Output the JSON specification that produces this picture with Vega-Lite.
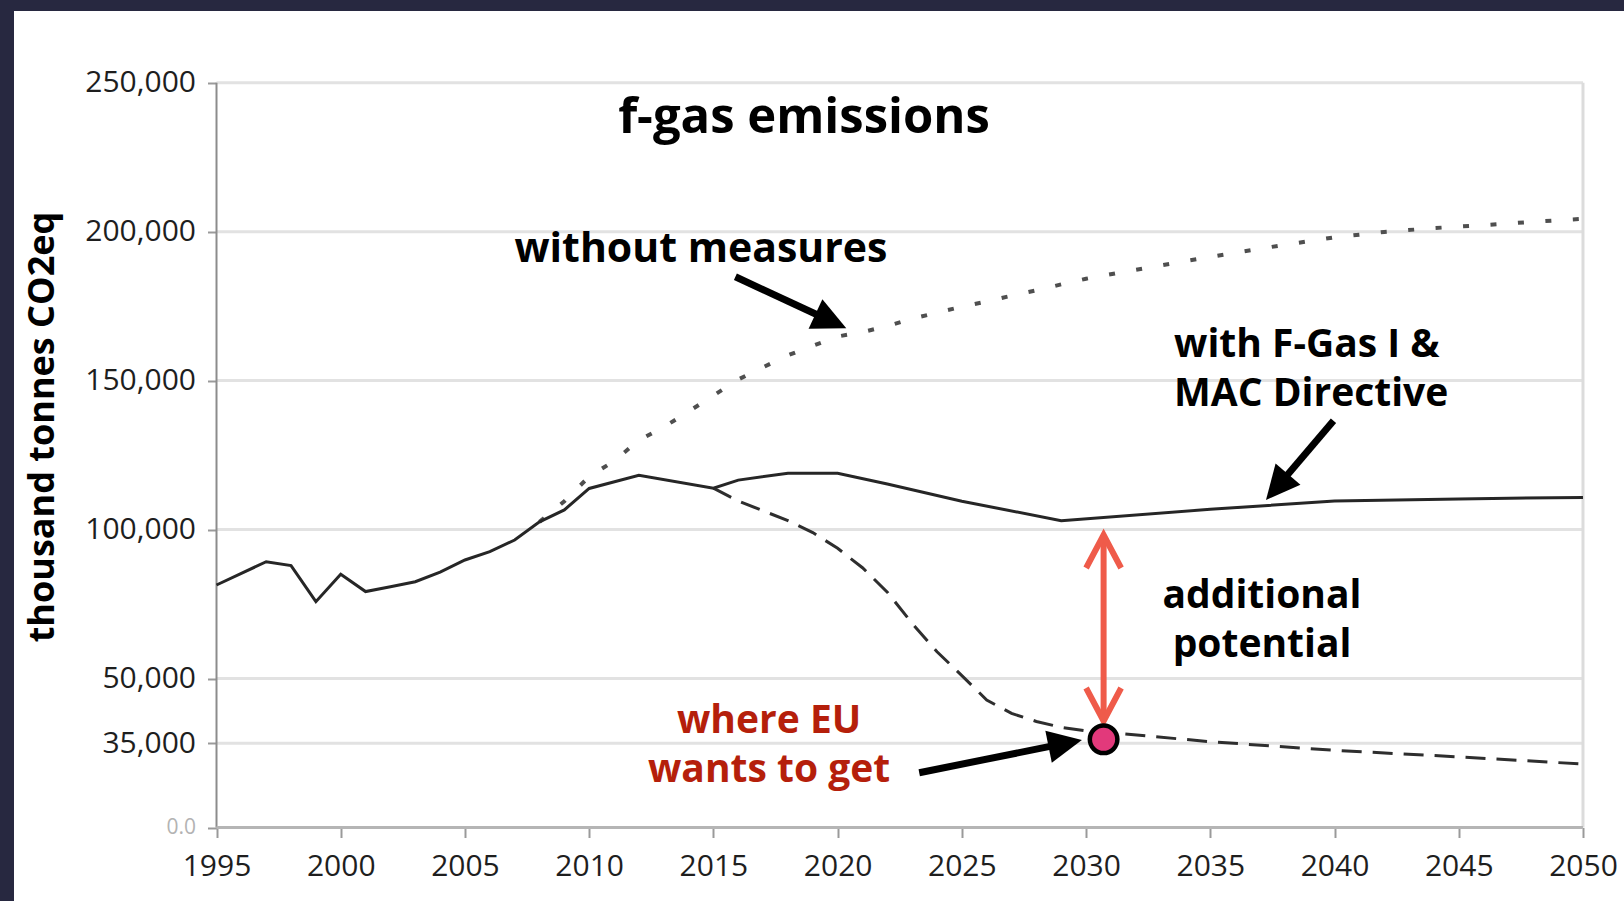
{
  "$schema": "https://vega.github.io/schema/vega-lite/v6.json",
  "width": 1610,
  "height": 890,
  "autosize": {"type": "none"},
  "padding": {"left": 14, "top": 11, "right": 0, "bottom": 0},
  "background": "#272840",
  "config": {"view": {"fill": "#ffffff", "stroke": null}, "font": "Open Sans"},
  "datasets": {
    "emissions": [
      {"series": "with F-Gas I & MAC Directive", "year": 1995, "value": 81400},
      {"series": "with F-Gas I & MAC Directive", "year": 1997, "value": 89200},
      {"series": "with F-Gas I & MAC Directive", "year": 1998, "value": 87900},
      {"series": "with F-Gas I & MAC Directive", "year": 1999, "value": 75800},
      {"series": "with F-Gas I & MAC Directive", "year": 2000, "value": 85000},
      {"series": "with F-Gas I & MAC Directive", "year": 2001, "value": 79200},
      {"series": "with F-Gas I & MAC Directive", "year": 2002, "value": 80800},
      {"series": "with F-Gas I & MAC Directive", "year": 2003, "value": 82500},
      {"series": "with F-Gas I & MAC Directive", "year": 2004, "value": 85700},
      {"series": "with F-Gas I & MAC Directive", "year": 2005, "value": 89800},
      {"series": "with F-Gas I & MAC Directive", "year": 2006, "value": 92600},
      {"series": "with F-Gas I & MAC Directive", "year": 2007, "value": 96500},
      {"series": "with F-Gas I & MAC Directive", "year": 2008, "value": 102600},
      {"series": "with F-Gas I & MAC Directive", "year": 2009, "value": 106600},
      {"series": "with F-Gas I & MAC Directive", "year": 2010, "value": 113800},
      {"series": "with F-Gas I & MAC Directive", "year": 2012, "value": 118200},
      {"series": "with F-Gas I & MAC Directive", "year": 2015, "value": 113900},
      {"series": "with F-Gas I & MAC Directive", "year": 2016, "value": 116600},
      {"series": "with F-Gas I & MAC Directive", "year": 2018, "value": 118900},
      {"series": "with F-Gas I & MAC Directive", "year": 2020, "value": 118900},
      {"series": "with F-Gas I & MAC Directive", "year": 2022, "value": 115300},
      {"series": "with F-Gas I & MAC Directive", "year": 2025, "value": 109500},
      {"series": "with F-Gas I & MAC Directive", "year": 2029, "value": 103000},
      {"series": "with F-Gas I & MAC Directive", "year": 2035, "value": 106800},
      {"series": "with F-Gas I & MAC Directive", "year": 2040, "value": 109600},
      {"series": "with F-Gas I & MAC Directive", "year": 2045, "value": 110300},
      {"series": "with F-Gas I & MAC Directive", "year": 2050, "value": 110800},
      {"series": "target path", "year": 2015, "value": 113900},
      {"series": "target path", "year": 2016, "value": 109600},
      {"series": "target path", "year": 2017, "value": 106300},
      {"series": "target path", "year": 2018, "value": 103000},
      {"series": "target path", "year": 2019, "value": 99000},
      {"series": "target path", "year": 2020, "value": 93700},
      {"series": "target path", "year": 2021, "value": 87200},
      {"series": "target path", "year": 2022, "value": 79000},
      {"series": "target path", "year": 2023, "value": 68500},
      {"series": "target path", "year": 2024, "value": 59000},
      {"series": "target path", "year": 2025, "value": 51000},
      {"series": "target path", "year": 2026, "value": 42800},
      {"series": "target path", "year": 2027, "value": 38300},
      {"series": "target path", "year": 2028, "value": 35600},
      {"series": "target path", "year": 2029, "value": 33600},
      {"series": "target path", "year": 2030, "value": 32400},
      {"series": "target path", "year": 2031, "value": 31800},
      {"series": "target path", "year": 2035, "value": 28800},
      {"series": "target path", "year": 2040, "value": 25900},
      {"series": "target path", "year": 2045, "value": 23700},
      {"series": "target path", "year": 2050, "value": 21300},
      {"series": "without measures", "year": 2008, "value": 102600},
      {"series": "without measures", "year": 2009, "value": 109500},
      {"series": "without measures", "year": 2010, "value": 117800},
      {"series": "without measures", "year": 2011, "value": 123000},
      {"series": "without measures", "year": 2012, "value": 130000},
      {"series": "without measures", "year": 2013, "value": 134400},
      {"series": "without measures", "year": 2014, "value": 139600},
      {"series": "without measures", "year": 2015, "value": 145000},
      {"series": "without measures", "year": 2016, "value": 150400},
      {"series": "without measures", "year": 2017, "value": 154500},
      {"series": "without measures", "year": 2018, "value": 158500},
      {"series": "without measures", "year": 2019, "value": 161700},
      {"series": "without measures", "year": 2020, "value": 164800},
      {"series": "without measures", "year": 2021, "value": 166300},
      {"series": "without measures", "year": 2022, "value": 168300},
      {"series": "without measures", "year": 2023, "value": 170800},
      {"series": "without measures", "year": 2024, "value": 172800},
      {"series": "without measures", "year": 2025, "value": 174800},
      {"series": "without measures", "year": 2026, "value": 176600},
      {"series": "without measures", "year": 2027, "value": 178500},
      {"series": "without measures", "year": 2028, "value": 180300},
      {"series": "without measures", "year": 2029, "value": 182300},
      {"series": "without measures", "year": 2030, "value": 184200},
      {"series": "without measures", "year": 2032, "value": 187200},
      {"series": "without measures", "year": 2034, "value": 190100},
      {"series": "without measures", "year": 2036, "value": 192900},
      {"series": "without measures", "year": 2038, "value": 195600},
      {"series": "without measures", "year": 2040, "value": 198100},
      {"series": "without measures", "year": 2042, "value": 199900},
      {"series": "without measures", "year": 2044, "value": 201200},
      {"series": "without measures", "year": 2046, "value": 202200},
      {"series": "without measures", "year": 2048, "value": 203300},
      {"series": "without measures", "year": 2050, "value": 204300}
    ],
    "gridlines": [
      {"year": 1995, "year2": 2050, "value": 28300},
      {"year": 1995, "year2": 2050, "value": 50000},
      {"year": 1995, "year2": 2050, "value": 100000},
      {"year": 1995, "year2": 2050, "value": 150000},
      {"year": 1995, "year2": 2050, "value": 200000},
      {"year": 1995, "year2": 2050, "value": 250000}
    ],
    "frame": [
      {"side": "right", "year": 2050, "value": 0, "value2": 250000},
      {"side": "left", "year": 1995, "value": 0, "value2": 250000}
    ],
    "baseline": [{"year": 1995, "year2": 2050, "value": 0}],
    "pointers": [
      {"label": "without measures", "year": 2015.885, "value": 184880, "year2": 2019.436, "value2": 171090},
      {"label": "with F-Gas", "year": 2039.958, "value": 136550, "year2": 2037.894, "value2": 116310},
      {"label": "where EU", "year": 2023.284, "value": 18390, "year2": 2028.846, "value2": 27730}
    ],
    "tips": [
      {"label": "without measures", "year": 2020.349, "value": 167560},
      {"label": "with F-Gas", "year": 2037.241, "value": 109930},
      {"label": "where EU", "year": 2029.832, "value": 29370}
    ],
    "gap": [{"year": 2030.705, "value": 98180, "value2": 35750}],
    "gapEnds": [
      {"end": "top", "year": 2030.705, "value": 98180},
      {"end": "bottom", "year": 2030.705, "value": 35750}
    ],
    "target": [{"year": 2030.705, "value": 29600}],
    "notes": [
      {"kind": "title", "text": "f-gas emissions", "year": 2018.646, "value": 233110},
      {"kind": "single", "text": "without measures", "year": 2014.5, "value": 189820},
      {"kind": "center", "text": ["additional", "potential"], "year": 2037.08, "value": 73580},
      {"kind": "left", "text": ["with F-Gas I &", "MAC Directive"], "year": 2033.54, "value": 157830},
      {"kind": "red", "text": ["where EU", "wants to get"], "year": 2017.24, "value": 31720},
      {"kind": "ytitle", "text": "thousand tonnes CO2eq", "year": 1988.46, "value": 134430}
    ]
  },
  "encoding": {
    "x": {
      "field": "year", "type": "quantitative",
      "scale": {"domain": [1986.849, 2051.651], "nice": false, "zero": false},
      "axis": {
        "values": [1995, 2000, 2005, 2010, 2015, 2020, 2025, 2030, 2035, 2040, 2045, 2050],
        "format": "d", "title": null, "domain": false, "grid": false, "offset": -73.5,
        "tickSize": 10, "tickColor": "#9a9a9a", "tickWidth": 2,
        "labelFont": "Open Sans", "labelFontSize": 30, "labelColor": "#1e1e1e",
        "labelPadding": 14, "labelFlush": false, "labelOverlap": false
      }
    },
    "y": {
      "field": "value", "type": "quantitative",
      "scale": {"domain": [-24671, 274067], "nice": false, "zero": false},
      "axis": {
        "values": [0, 28300, 50000, 100000, 150000, 200000, 250000],
        "labelExpr": "datum.value === 0 ? '0.0' : (datum.value === 28300 ? '35,000' : format(datum.value, ','))",
        "title": null, "domain": false, "grid": false, "offset": -202.5,
        "tickSize": 9, "tickColor": "#9a9a9a", "tickWidth": 2,
        "labelFont": "Open Sans",
        "labelFontSize": {"condition": {"test": "datum.value === 0", "value": 21}, "value": 30},
        "labelColor": {"condition": {"test": "datum.value === 0", "value": "#b3b3b3"}, "value": "#1e1e1e"},
        "labelPadding": 12, "labelOverlap": false, "labelFlush": false
      }
    }
  },
  "layer": [
    {
      "data": {"name": "gridlines"},
      "mark": {"type": "rule", "color": "#e2e2e2", "strokeWidth": 3},
      "encoding": {"x2": {"field": "year2"}}
    },
    {
      "data": {"name": "frame"},
      "transform": [{"filter": "datum.side === 'right'"}],
      "mark": {"type": "rule", "color": "#dcdcdc", "strokeWidth": 3},
      "encoding": {"y2": {"field": "value2"}}
    },
    {
      "data": {"name": "frame"},
      "transform": [{"filter": "datum.side === 'left'"}],
      "mark": {"type": "rule", "color": "#8c8c8c", "strokeWidth": 2},
      "encoding": {"y2": {"field": "value2"}}
    },
    {
      "data": {"name": "baseline"},
      "mark": {"type": "rule", "color": "#b5b5b5", "strokeWidth": 3},
      "encoding": {"x2": {"field": "year2"}}
    },
    {
      "data": {"name": "emissions"},
      "transform": [{"filter": "datum.series === 'without measures'"}],
      "mark": {"type": "line", "color": "#4f4f4f", "strokeWidth": 4, "strokeDash": [6, 21.5], "strokeCap": "butt"},
      "encoding": {}
    },
    {
      "data": {"name": "emissions"},
      "transform": [{"filter": "datum.series === 'target path'"}],
      "mark": {"type": "line", "color": "#2e2e2e", "strokeWidth": 3, "strokeDash": [20, 11]},
      "encoding": {}
    },
    {
      "data": {"name": "emissions"},
      "transform": [{"filter": "datum.series === 'with F-Gas I & MAC Directive'"}],
      "mark": {"type": "line", "color": "#262626", "strokeWidth": 3},
      "encoding": {}
    },
    {
      "data": {"name": "gap"},
      "mark": {"type": "rule", "color": "#ef5b4a", "strokeWidth": 6},
      "encoding": {"y2": {"field": "value2"}}
    },
    {
      "data": {"name": "gapEnds"},
      "transform": [{"filter": "datum.end === 'top'"}],
      "mark": {"type": "point", "shape": "M-0.53,1L0,0L0.53,1", "filled": false, "stroke": "#ef5b4a", "strokeWidth": 6, "size": 4356, "opacity": 1, "strokeJoin": "miter"},
      "encoding": {}
    },
    {
      "data": {"name": "gapEnds"},
      "transform": [{"filter": "datum.end === 'bottom'"}],
      "mark": {"type": "point", "shape": "M-0.53,1L0,0L0.53,1", "filled": false, "stroke": "#ef5b4a", "strokeWidth": 6, "size": 4356, "opacity": 1, "angle": 180, "strokeJoin": "miter"},
      "encoding": {}
    },
    {
      "data": {"name": "target"},
      "mark": {"type": "point", "shape": "circle", "filled": true, "fill": "#e2397b", "stroke": "#000000", "strokeWidth": 4.5, "size": 760, "opacity": 1},
      "encoding": {}
    },
    {
      "data": {"name": "pointers"},
      "mark": {"type": "rule", "color": "#000000", "strokeWidth": 7},
      "encoding": {"x2": {"field": "year2"}, "y2": {"field": "value2"}}
    },
    {
      "data": {"name": "tips"},
      "transform": [{"filter": "datum.label === 'without measures'"}],
      "mark": {"type": "point", "shape": "M0,0L0.48,1L-0.48,1Z", "filled": true, "color": "#000000", "size": 4624, "opacity": 1, "angle": 115},
      "encoding": {}
    },
    {
      "data": {"name": "tips"},
      "transform": [{"filter": "datum.label === 'with F-Gas'"}],
      "mark": {"type": "point", "shape": "M0,0L0.48,1L-0.48,1Z", "filled": true, "color": "#000000", "size": 4624, "opacity": 1, "angle": 220.4},
      "encoding": {}
    },
    {
      "data": {"name": "tips"},
      "transform": [{"filter": "datum.label === 'where EU'"}],
      "mark": {"type": "point", "shape": "M0,0L0.48,1L-0.48,1Z", "filled": true, "color": "#000000", "size": 4624, "opacity": 1, "angle": 78.6},
      "encoding": {}
    },
    {
      "data": {"name": "notes"},
      "transform": [{"filter": "datum.kind === 'title'"}],
      "mark": {"type": "text", "font": "Open Sans", "fontWeight": "bold", "fontSize": 49, "color": "#000000", "align": "center", "baseline": "alphabetic"},
      "encoding": {"text": {"field": "text"}}
    },
    {
      "data": {"name": "notes"},
      "transform": [{"filter": "datum.kind === 'single'"}],
      "mark": {"type": "text", "font": "Open Sans", "fontWeight": "bold", "fontSize": 41, "color": "#000000", "align": "center", "baseline": "alphabetic"},
      "encoding": {"text": {"field": "text"}}
    },
    {
      "data": {"name": "notes"},
      "transform": [{"filter": "datum.kind === 'center'"}],
      "mark": {"type": "text", "font": "Open Sans", "fontWeight": "bold", "fontSize": 39, "lineHeight": 48.5, "color": "#000000", "align": "center", "baseline": "alphabetic"},
      "encoding": {"text": {"field": "text"}}
    },
    {
      "data": {"name": "notes"},
      "transform": [{"filter": "datum.kind === 'left'"}],
      "mark": {"type": "text", "font": "Open Sans", "fontWeight": "bold", "fontSize": 39, "lineHeight": 48.5, "color": "#000000", "align": "left", "baseline": "alphabetic"},
      "encoding": {"text": {"field": "text"}}
    },
    {
      "data": {"name": "notes"},
      "transform": [{"filter": "datum.kind === 'red'"}],
      "mark": {"type": "text", "font": "Open Sans", "fontWeight": "bold", "fontSize": 39, "lineHeight": 48.5, "color": "#b51f0b", "align": "center", "baseline": "alphabetic"},
      "encoding": {"text": {"field": "text"}}
    },
    {
      "data": {"name": "notes"},
      "transform": [{"filter": "datum.kind === 'ytitle'"}],
      "mark": {"type": "text", "font": "Open Sans", "fontWeight": "bold", "fontSize": 36, "color": "#000000", "align": "center", "baseline": "alphabetic", "angle": 270},
      "encoding": {"text": {"field": "text"}}
    }
  ]
}
